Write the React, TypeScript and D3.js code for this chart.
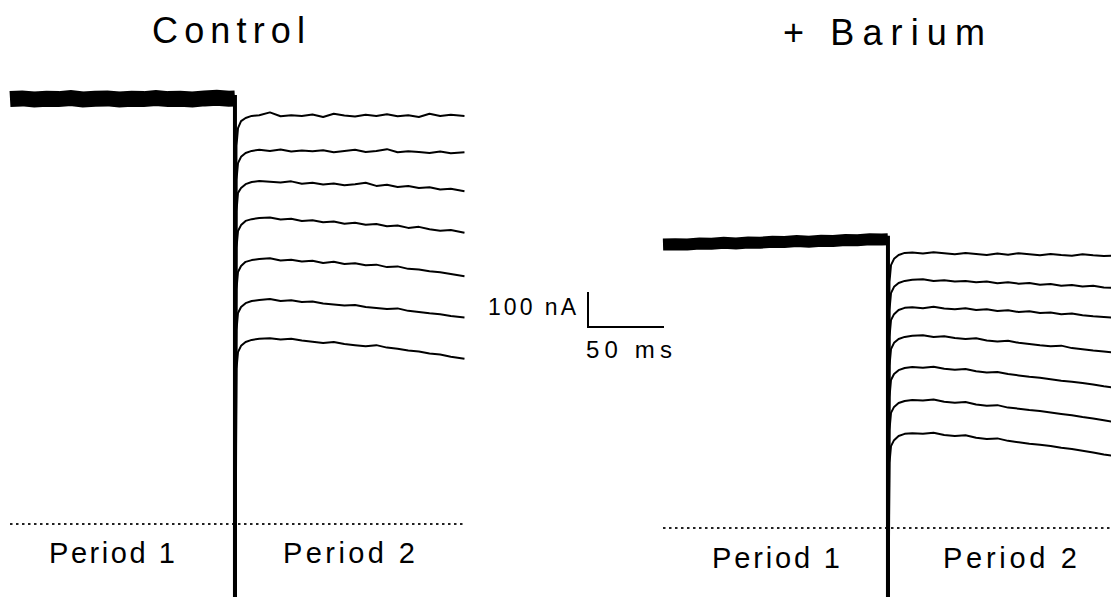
import React from 'react';
import * as d3 from 'd3';

// time in ms, current in nA (relative to the dotted zero line)
const p1Time = [0, 8, 16, 24, 32, 40, 48, 56, 64, 72, 80, 88, 96, 104, 112, 120, 128, 136, 144, 148];
const p2Time = [1, 2, 4, 7, 11, 16, 23, 30, 37, 44, 51, 58, 65, 72, 79, 86, 93, 100, 107, 114, 121, 128, 135, 142, 151];
const stepTime = 148;
const endTime = 300;
const spikeNA = -500;

const controlPeriod1 = [1214, 1216, 1213, 1215, 1214, 1217, 1213, 1215, 1216, 1213, 1215, 1214, 1217, 1214, 1215, 1213, 1216, 1218, 1215, 1216];
const controlPeriod2 = [
  [1081, 1131, 1151, 1160, 1166, 1168, 1176, 1165, 1168, 1166, 1170, 1163, 1172, 1167, 1164, 1169, 1166, 1171, 1165, 1168, 1163, 1172, 1166, 1169, 1166],
  [983, 1031, 1049, 1060, 1066, 1069, 1066, 1070, 1064, 1067, 1065, 1068, 1062, 1066, 1069, 1063, 1066, 1071, 1062, 1065, 1063, 1060, 1064, 1059, 1062],
  [894, 946, 960, 971, 977, 980, 978, 976, 979, 972, 975, 970, 973, 968, 971, 975, 966, 969, 963, 966, 960, 962, 956, 958, 951],
  [789, 837, 854, 866, 871, 874, 876, 870, 872, 866, 868, 862, 864, 858, 861, 855, 857, 851, 853, 846, 849, 842, 838, 840, 832],
  [671, 720, 737, 749, 754, 757, 759, 753, 755, 750, 752, 746, 749, 743, 745, 739, 741, 734, 736, 729, 727, 722, 719, 714, 708],
  [554, 603, 620, 631, 637, 640, 643, 637, 639, 634, 636, 630, 627, 624, 626, 620, 617, 614, 616, 609, 606, 602, 599, 594, 590],
  [443, 491, 509, 520, 526, 529, 531, 527, 529, 524, 521, 517, 520, 514, 511, 508, 511, 504, 501, 496, 493, 487, 484, 478, 472],
];

const bariumPeriod1 = [810, 811, 810, 813, 812, 815, 813, 816, 815, 818, 817, 820, 818, 821, 820, 823, 822, 825, 824, 825];
const bariumPeriod2 = [
  [703, 751, 769, 780, 786, 787, 784, 788, 785, 782, 786, 783, 780, 784, 781, 785, 782, 779, 783, 780, 778, 782, 779, 777, 779],
  [623, 671, 689, 700, 706, 709, 711, 706, 708, 704, 706, 702, 704, 699, 702, 698, 700, 695, 697, 692, 694, 690, 692, 687, 686],
  [546, 594, 611, 623, 629, 631, 628, 632, 627, 625, 628, 623, 625, 620, 622, 617, 619, 614, 616, 611, 613, 608, 605, 603, 600],
  [463, 511, 529, 540, 546, 549, 551, 546, 548, 543, 540, 542, 536, 533, 535, 529, 526, 522, 519, 521, 514, 511, 507, 504, 500],
  [374, 423, 440, 451, 457, 460, 458, 461, 455, 452, 454, 448, 444, 446, 440, 436, 432, 429, 425, 421, 418, 414, 410, 405, 400],
  [280, 329, 346, 357, 363, 366, 364, 367, 361, 358, 360, 353, 349, 351, 344, 341, 337, 334, 330, 326, 322, 317, 313, 308, 301],
  [186, 234, 251, 263, 269, 271, 269, 272, 266, 263, 265, 258, 254, 256, 249, 245, 241, 238, 234, 229, 226, 221, 216, 210, 204],
];

const scaleBarNA = 100;
const scaleBarMS = 50;

const PX_PER_MS = 1.52;
const PX_PER_NA = 0.35;
const FONT = '"Liberation Sans", Arial, sans-serif';

type Pt = [number, number];

function Panel({ x0, base, p1, p2, bandW }: { x0: number; base: number; p1: number[]; p2: number[][]; bandW: number }) {
  const x = d3.scaleLinear().domain([0, endTime]).range([x0, x0 + endTime * PX_PER_MS]);
  const y = d3.scaleLinear().domain([0, 100]).range([base, base - 100 * PX_PER_NA]);
  const line = d3.line<Pt>().x(d => x(d[0])).y(d => y(d[1]));

  const band: Pt[] = p1Time.map((t, i) => [t, p1[i]]);
  const step: Pt[] = [[stepTime, p1[p1.length - 1] + 10], [stepTime, spikeNA]];

  return (
    <g>
      <line x1={x(0)} x2={x(endTime)} y1={y(0)} y2={y(0)}
        stroke="#222" strokeWidth={2} strokeDasharray="2.5 3.5" />
      <path d={line(band) || ''} fill="none" stroke="#000" strokeWidth={bandW} />
      <path d={line(step) || ''} fill="none" stroke="#000" strokeWidth={4} />
      {p2.map((vals, k) => {
        const pts: Pt[] = [[stepTime, spikeNA], ...p2Time.map((t, i) => [stepTime + t, vals[i]] as Pt)];
        return <path key={k} d={line(pts) || ''} fill="none" stroke="#000" strokeWidth={2} strokeLinejoin="round" />;
      })}
    </g>
  );
}

export default function App() {
  // scale bar geometry from the same px/unit scales
  const sb = { x: 588, y: 327 };
  const barH = d3.scaleLinear().domain([0, 100]).range([0, 100 * PX_PER_NA])(scaleBarNA);
  const barW = d3.scaleLinear().domain([0, 100]).range([0, 100 * PX_PER_MS])(scaleBarMS);

  return (
    <>
      <style>{`body{margin:0}`}</style>
      <svg width={1111} height={597} style={{ display: 'block', background: '#fff' }} fontFamily={FONT}>
        <text x={152} y={43} fontSize={36} textLength={153} lengthAdjust="spacing">Control</text>
        <text x={783} y={45} fontSize={36} textLength={202} lengthAdjust="spacing">+ Barium</text>

        <Panel x0={10} base={524} p1={controlPeriod1} p2={controlPeriod2} bandW={16} />
        <Panel x0={663} base={528} p1={bariumPeriod1} p2={bariumPeriod2} bandW={12} />

        <path d={`M${sb.x},${sb.y - barH}V${sb.y}H${sb.x + barW}`} fill="none" stroke="#000" strokeWidth={2} />
        <text x={488} y={315} fontSize={23} textLength={88} lengthAdjust="spacing">100 nA</text>
        <text x={586} y={358} fontSize={24} textLength={86} lengthAdjust="spacing">50 ms</text>

        <text x={49} y={563} fontSize={29} textLength={126} lengthAdjust="spacing">Period 1</text>
        <text x={283} y={563} fontSize={29} textLength={132} lengthAdjust="spacing">Period 2</text>
        <text x={712} y={568} fontSize={29} textLength={128} lengthAdjust="spacing">Period 1</text>
        <text x={943} y={568} fontSize={29} textLength={134} lengthAdjust="spacing">Period 2</text>
      </svg>
    </>
  );
}
